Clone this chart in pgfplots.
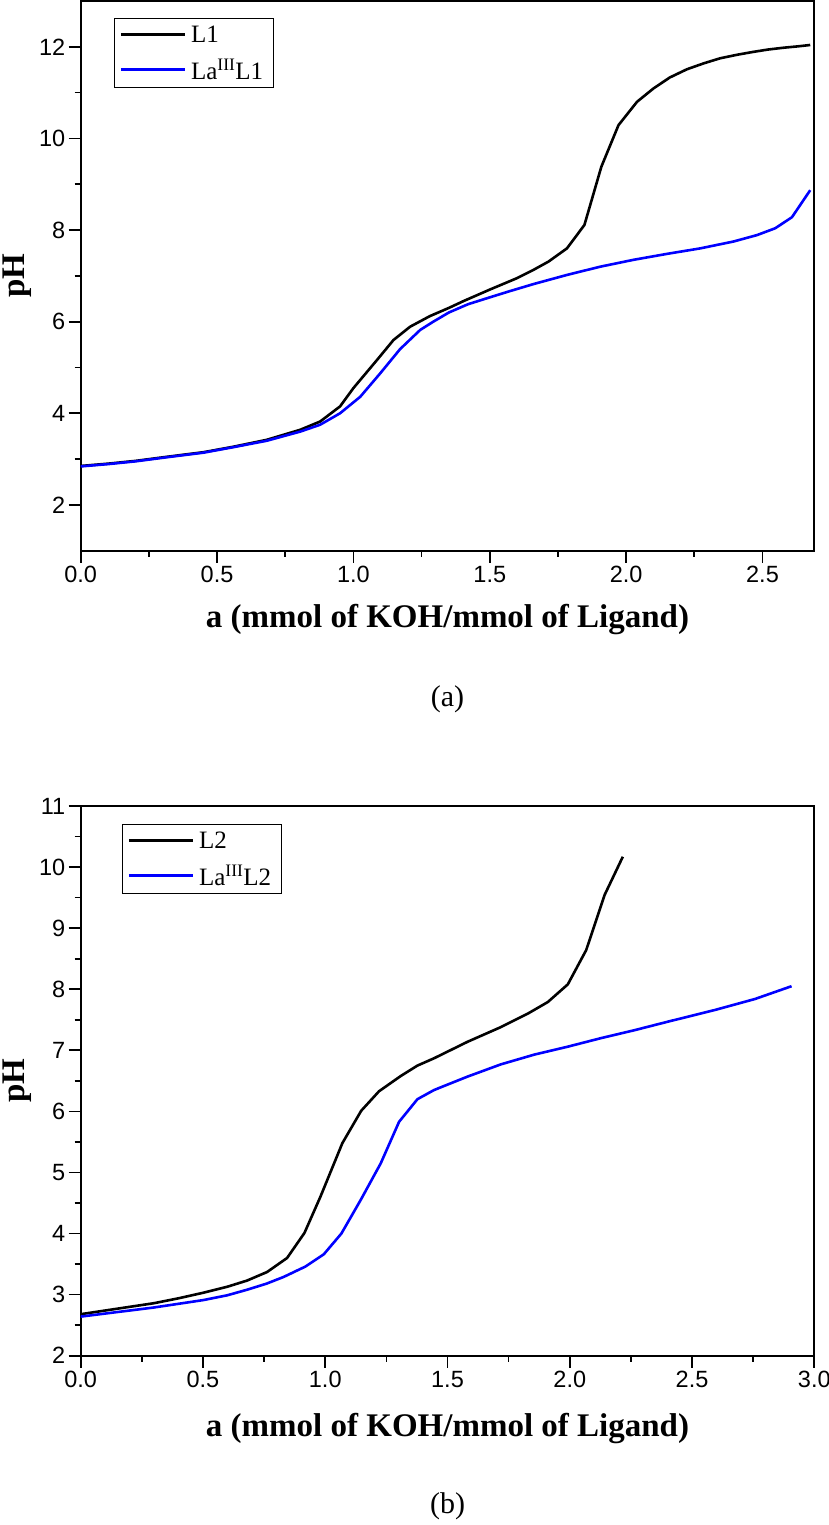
\documentclass[border=0pt]{standalone}
\usepackage{fontspec}
\setmainfont{Liberation Serif}
\newfontfamily\arial{Liberation Sans}
\usepackage{pgfplots}
\pgfplotsset{compat=1.18}
\definecolor{myblue}{RGB}{0,0,255}
\pgfplotsset{
 phstyle/.style={
  scale only axis, width=733.6pt, height=549.7pt,
  axis line style={line width=2pt},
  every tick/.style={line width=1.7pt, black},
  tick align=outside,
  major tick length=12pt, minor tick length=6pt,
  xtick pos=left, ytick pos=left,
  minor x tick num=1, minor y tick num=1,
  /pgf/number format/assume math mode=true,
  ticklabel style={font=\arial\fontsize{23.5}{25}\selectfont},
  label style={font=\bfseries\fontsize{33}{36}\selectfont},
  ylabel style={at={(axis description cs:-0.0868,0.5)}, anchor=center},
  xlabel={a (mmol of KOH/mmol of Ligand)},
  ylabel={pH},
  legend style={draw=black, line width=1pt, font=\fontsize{25}{28}\selectfont,
    anchor=north west, cells={anchor=west}, inner xsep=5pt, inner ysep=6pt,
    row sep=13pt, nodes={inner xsep=5pt, inner ysep=1pt}},
  legend image code/.code={\draw[#1] (0pt,0pt) -- (64pt,0pt);},
 }
}
\begin{document}
\begin{tikzpicture}
\begin{axis}[phstyle, at={(80.7pt,-550.7pt)}, anchor=south west,
  xmin=0, xmax=2.69, ymin=1, ymax=13,
  xlabel style={at={(axis description cs:0.5,0)}, anchor=center, yshift=-69pt},
  xtick={0,0.5,1,1.5,2,2.5}, xticklabels={0.0,0.5,1.0,1.5,2.0,2.5},
  ytick={2,4,6,8,10,12},
  legend style={at={(axis description cs:0.0454,0.969)}}]
\addplot[black, line width=2.6pt] coordinates {
(0,2.85) (0.1,2.9) (0.2,2.96) (0.316,3.05) (0.45,3.15) (0.56,3.27) (0.682,3.42)
(0.805,3.64) (0.878,3.82) (0.951,4.15) (1.0,4.55) (1.086,5.16) (1.147,5.60)
(1.208,5.89) (1.28,6.12) (1.35,6.3) (1.404,6.45) (1.5,6.7) (1.6,6.95) (1.66,7.13)
(1.715,7.31) (1.783,7.6) (1.847,8.11) (1.909,9.38) (1.972,10.29) (2.04,10.8)
(2.10,11.09) (2.16,11.33) (2.223,11.51) (2.285,11.64) (2.345,11.75) (2.41,11.83)
(2.467,11.89) (2.52,11.94) (2.577,11.98) (2.63,12.01) (2.675,12.04)};
\addlegendentry{L1}
\addplot[myblue, line width=2.6pt] coordinates {
(0,2.84) (0.1,2.89) (0.2,2.95) (0.316,3.04) (0.45,3.14) (0.56,3.26) (0.682,3.40)
(0.805,3.60) (0.878,3.75) (0.951,4.0) (1.025,4.36) (1.098,4.87) (1.171,5.40)
(1.245,5.82) (1.293,6.0) (1.35,6.2) (1.42,6.38) (1.489,6.51) (1.57,6.66) (1.66,6.82)
(1.783,7.02) (1.905,7.20) (2.027,7.35) (2.15,7.48) (2.272,7.60) (2.394,7.75)
(2.48,7.89) (2.547,8.04) (2.608,8.28) (2.675,8.87)};
\addlegendentry{La\textsuperscript{III}L1}
\end{axis}
\node[font=\fontsize{30}{32}\selectfont] at (447.5pt,-699pt) {(a)};
\begin{axis}[phstyle, at={(80.7pt,-1355.7pt)}, anchor=south west,
  xmin=0, xmax=3, ymin=2, ymax=11,
  xlabel style={at={(axis description cs:0.5,0)}, anchor=center, yshift=-73pt},
  xtick={0,0.5,1,1.5,2,2.5,3}, xticklabels={0.0,0.5,1.0,1.5,2.0,2.5,3.0},
  ytick={2,3,...,11},
  legend style={at={(axis description cs:0.0563,0.967)}}]
\addplot[black, line width=2.6pt] coordinates {
(0,2.68) (0.1,2.74) (0.2,2.8) (0.3,2.86) (0.4,2.94) (0.5,3.03) (0.6,3.13) (0.68,3.23)
(0.762,3.37) (0.844,3.60) (0.915,4.01) (0.98,4.60) (1.07,5.48) (1.147,6.01)
(1.22,6.33) (1.309,6.58) (1.377,6.75) (1.445,6.87) (1.582,7.14) (1.718,7.38)
(1.828,7.60) (1.91,7.79) (1.992,8.08) (2.067,8.64) (2.142,9.54) (2.217,10.17)};
\addlegendentry{L2}
\addplot[myblue, line width=2.6pt] coordinates {
(0,2.64) (0.1,2.69) (0.2,2.74) (0.3,2.79) (0.4,2.85) (0.5,2.91) (0.6,2.99) (0.68,3.08)
(0.76,3.18) (0.83,3.29) (0.919,3.46) (0.994,3.66) (1.066,4.0) (1.145,4.55)
(1.227,5.15) (1.302,5.83) (1.377,6.20) (1.445,6.35) (1.582,6.57) (1.718,6.77)
(1.855,6.93) (1.992,7.06) (2.128,7.20) (2.265,7.33) (2.402,7.47) (2.593,7.66)
(2.757,7.84) (2.907,8.05)};
\addlegendentry{La\textsuperscript{III}L2}
\end{axis}
\node[font=\fontsize{30}{32}\selectfont] at (447.5pt,-1506pt) {(b)};
\pgfresetboundingbox
\path[use as bounding box] (0pt,0pt) rectangle (829pt,-1525pt);
\end{tikzpicture}
\end{document}
